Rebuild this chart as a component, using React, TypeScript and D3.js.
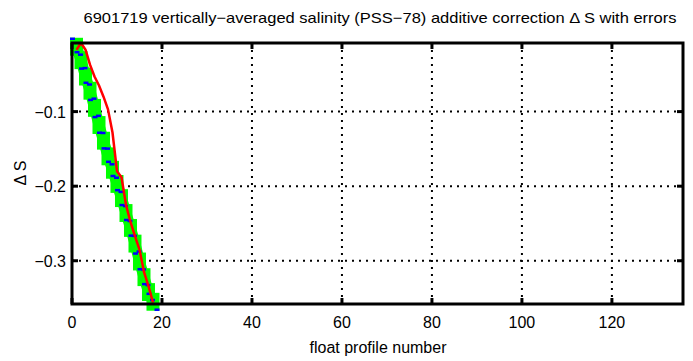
import React from "react";
import * as d3 from "d3";

const profiles = [1, 2, 3, 4, 5, 6, 7, 8, 9, 10, 11, 12, 13, 14, 15, 16, 17, 18];
const avgSoffset = [-0.013, -0.031, -0.053, -0.072, -0.095, -0.118, -0.139, -0.160, -0.178, -0.197, -0.216, -0.236, -0.256, -0.277, -0.301, -0.322, -0.342, -0.355];
const avgSoffsetErr = [0.012, 0.012, 0.012, 0.012, 0.012, 0.012, 0.012, 0.012, 0.012, 0.012, 0.012, 0.012, 0.012, 0.012, 0.012, 0.012, 0.012, 0.012];
const avgStaOffset = [-0.017, -0.008, -0.017, -0.037, -0.053, -0.065, -0.080, -0.097, -0.128, -0.180, -0.188, -0.225, -0.248, -0.267, -0.285, -0.315, -0.334, -0.356];
const xTicks = [0, 20, 40, 60, 80, 100, 120];
const yTicks = [-0.1, -0.2, -0.3];
const title = "6901719 vertically\u2212averaged salinity (PSS\u221278) additive correction \u0394 S with errors";

export default function App() {
  const W = 693, H = 361;
  const L = 72, R = 683, T = 43, B = 304;
  const x = d3.scaleLinear().domain([0, 135.8]).range([L, R]);
  const y = d3.scaleLinear().domain([-0.358, -0.008]).range([B, T]);
  const line = d3.line<number>().x((_, i) => x(profiles[i])).y((d) => y(d));
  const font = "'Liberation Sans', Arial, sans-serif";
  const hw = 6.5;
  return (
    <svg width={W} height={H} style={{ position: "absolute", left: 0, top: 0, background: "#fff" }}>
      <rect x={0} y={0} width={W} height={H} fill="#fff" />
      {/* grid */}
      {xTicks.filter((t) => t > 0).map((t) => (
        <line key={"gx" + t} x1={x(t)} x2={x(t)} y1={T} y2={B} stroke="#000" strokeWidth={2} strokeDasharray="2,5" />
      ))}
      {yTicks.map((t) => (
        <line key={"gy" + t} x1={L} x2={R} y1={y(t)} y2={y(t)} stroke="#000" strokeWidth={2} strokeDasharray="2,5" />
      ))}
      {/* error boxes */}
      {profiles.map((p, i) => {
        const top = y(avgSoffset[i] + avgSoffsetErr[i]);
        const bot = y(avgSoffset[i] - avgSoffsetErr[i]);
        return (
          <rect key={"g" + p} x={x(p) - hw} y={top} width={2 * hw} height={bot - top} fill="#00ff00" />
        );
      })}
      <path d={line(avgSoffset) || ""} fill="none" stroke="#00ff00" strokeWidth={11} />
      {profiles.map((p, i) => {
        const top = y(avgSoffset[i] + avgSoffsetErr[i]);
        const bot = y(avgSoffset[i] - avgSoffsetErr[i]);
        return (
          <g key={"e" + p} stroke="#0000ff" strokeWidth={2.5}>
            <line x1={x(p) - hw} x2={x(p) - 1.5} y1={top + 1} y2={top + 1} />
            <line x1={x(p) + 1.5} x2={x(p) + hw} y1={bot - 1} y2={bot - 1} />
          </g>
        );
      })}
      {/* red line */}
      <path d={line(avgStaOffset) || ""} fill="none" stroke="#ff0000" strokeWidth={2.5} strokeLinejoin="round" />
      {/* axes box */}
      <rect x={L} y={T} width={R - L} height={B - T} fill="none" stroke="#000" strokeWidth={3} />
      {/* ticks */}
      {xTicks.map((t) => (
        <g key={"tx" + t}>
          <line x1={x(t)} x2={x(t)} y1={B} y2={B - 6} stroke="#000" strokeWidth={3} />
          <line x1={x(t)} x2={x(t)} y1={T} y2={T + 6} stroke="#000" strokeWidth={3} />
          <text x={x(t)} y={B + 24} textAnchor="middle" fontFamily={font} fontSize={16} fill="#000">{t}</text>
        </g>
      ))}
      {yTicks.map((t) => (
        <g key={"ty" + t}>
          <line x1={L} x2={L + 6} y1={y(t)} y2={y(t)} stroke="#000" strokeWidth={3} />
          <line x1={R} x2={R - 6} y1={y(t)} y2={y(t)} stroke="#000" strokeWidth={3} />
          <text x={L - 6} y={y(t) + 6} textAnchor="end" fontFamily={font} fontSize={16} fill="#000">{"\u2212" + Math.abs(t).toFixed(1)}</text>
        </g>
      ))}
      <text x={378} y={353} textAnchor="middle" fontFamily={font} fontSize={16} fill="#000">float profile number</text>
      <text transform="translate(26,173) rotate(-90)" textAnchor="middle" fontFamily={font} fontSize={16} fill="#000">{"\u0394 S"}</text>
      <text x={380} y={23} textAnchor="middle" fontFamily={font} fontSize={15} fill="#000" textLength={593} lengthAdjust="spacingAndGlyphs">{title}</text>
    </svg>
  );
}
